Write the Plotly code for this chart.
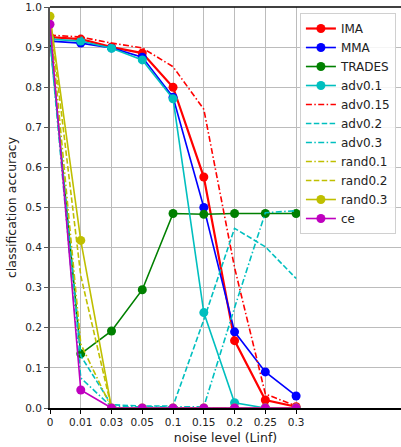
import plotly.graph_objects as go

noise_labels = ['0', '0.01', '0.03', '0.05', '0.1', '0.15', '0.2', '0.25', '0.3']

ima = [0.925, 0.920, 0.900, 0.885, 0.800, 0.576, 0.168, 0.020, 0.003]
mma = [0.915, 0.910, 0.898, 0.875, 0.775, 0.500, 0.190, 0.090, 0.030]
trades = [0.922, 0.135, 0.192, 0.295, 0.485, 0.483, 0.485, 0.485, 0.485]
adv01 = [0.920, 0.915, 0.897, 0.868, 0.771, 0.238, 0.013, 0.000, 0.000]
adv015 = [0.930, 0.925, 0.910, 0.898, 0.851, 0.745, 0.350, 0.035, 0.005]
adv02 = [0.920, 0.130, 0.008, 0.005, 0.005, 0.220, 0.448, 0.402, 0.323]
adv03 = [0.920, 0.075, 0.003, 0.003, 0.003, 0.003, 0.250, 0.487, 0.492]
rand01 = [0.975, 0.160, 0.000, 0.000, 0.000, 0.000, 0.000, 0.000, 0.000]
rand02 = [0.975, 0.330, 0.000, 0.000, 0.000, 0.000, 0.000, 0.000, 0.000]
rand03 = [0.977, 0.418, 0.000, 0.000, 0.000, 0.000, 0.000, 0.000, 0.000]
ce = [0.957, 0.045, 0.000, 0.000, 0.000, 0.000, 0.000, 0.000, 0.000]

xpos = list(range(len(noise_labels)))

DASHDOT = "6px,2.4px,1.5px,2.4px"
DASHED = "5.5px,2.4px"

series = [
    ("IMA", ima, "#ff0000", "solid", True, 2.2),
    ("MMA", mma, "#0000ff", "solid", True, 1.6),
    ("TRADES", trades, "#008000", "solid", True, 1.6),
    ("adv0.1", adv01, "#00bfbf", "solid", True, 1.6),
    ("adv0.15", adv015, "#ff0000", DASHDOT, False, 1.6),
    ("adv0.2", adv02, "#00bfbf", DASHED, False, 1.6),
    ("adv0.3", adv03, "#00bfbf", DASHDOT, False, 1.6),
    ("rand0.1", rand01, "#bfbf00", DASHDOT, False, 1.6),
    ("rand0.2", rand02, "#bfbf00", DASHED, False, 1.6),
    ("rand0.3", rand03, "#bfbf00", "solid", True, 1.6),
    ("ce", ce, "#bf00bf", "solid", True, 1.6),
]

fig = go.Figure()
for name, vals, color, dash, mk, lw in series:
    fig.add_trace(go.Scatter(
        x=xpos, y=vals, name=name,
        mode="lines+markers" if mk else "lines",
        line=dict(color=color, width=lw, dash=dash),
        marker=dict(color=color, size=9) if mk else None,
    ))

fig.update_layout(
    width=401, height=447,
    margin=dict(l=50, r=0, t=7, b=39),
    plot_bgcolor="white", paper_bgcolor="white",
    font=dict(family="DejaVu Sans", size=11, color="#222222"),
    showlegend=True,
    legend=dict(
        x=0.712, y=0.985, xanchor="left", yanchor="top",
        bgcolor="rgba(255,255,255,0.85)", bordercolor="#d0d0d0", borderwidth=1,
        font=dict(family="DejaVu Sans", size=12, color="#222222"),
        itemwidth=30, tracegroupgap=0,
    ),
)
fig.update_xaxes(
    range=[0, 11.41], tickmode="array", tickvals=xpos, ticktext=noise_labels,
    showgrid=True, gridcolor="#bcbcbc", gridwidth=1.3,
    showline=True, linecolor="#000000", linewidth=1.5, mirror=False,
    ticks="outside", ticklen=4, tickcolor="#000000",
    zeroline=False,
    title=dict(text="noise level (Linf)", font=dict(size=12.5), standoff=6),
    tickfont=dict(size=10.5),
)
fig.update_yaxes(
    range=[0, 1.0], tickmode="array",
    tickvals=[i / 10 for i in range(11)],
    ticktext=[f"{i / 10:.1f}" for i in range(11)],
    showgrid=True, gridcolor="#bcbcbc", gridwidth=1.3,
    showline=True, linecolor="#555555", linewidth=2,
    ticks="outside", ticklen=4, tickcolor="#555555",
    zeroline=False,
    title=dict(text="classification accuracy", font=dict(size=12.5), standoff=6),
    tickfont=dict(size=10.5),
)
# top spine
fig.add_shape(type="line", xref="paper", yref="paper", x0=0, x1=1, y0=1, y1=1,
              line=dict(color="#000000", width=1.5))

fig.write_html("out.html")
